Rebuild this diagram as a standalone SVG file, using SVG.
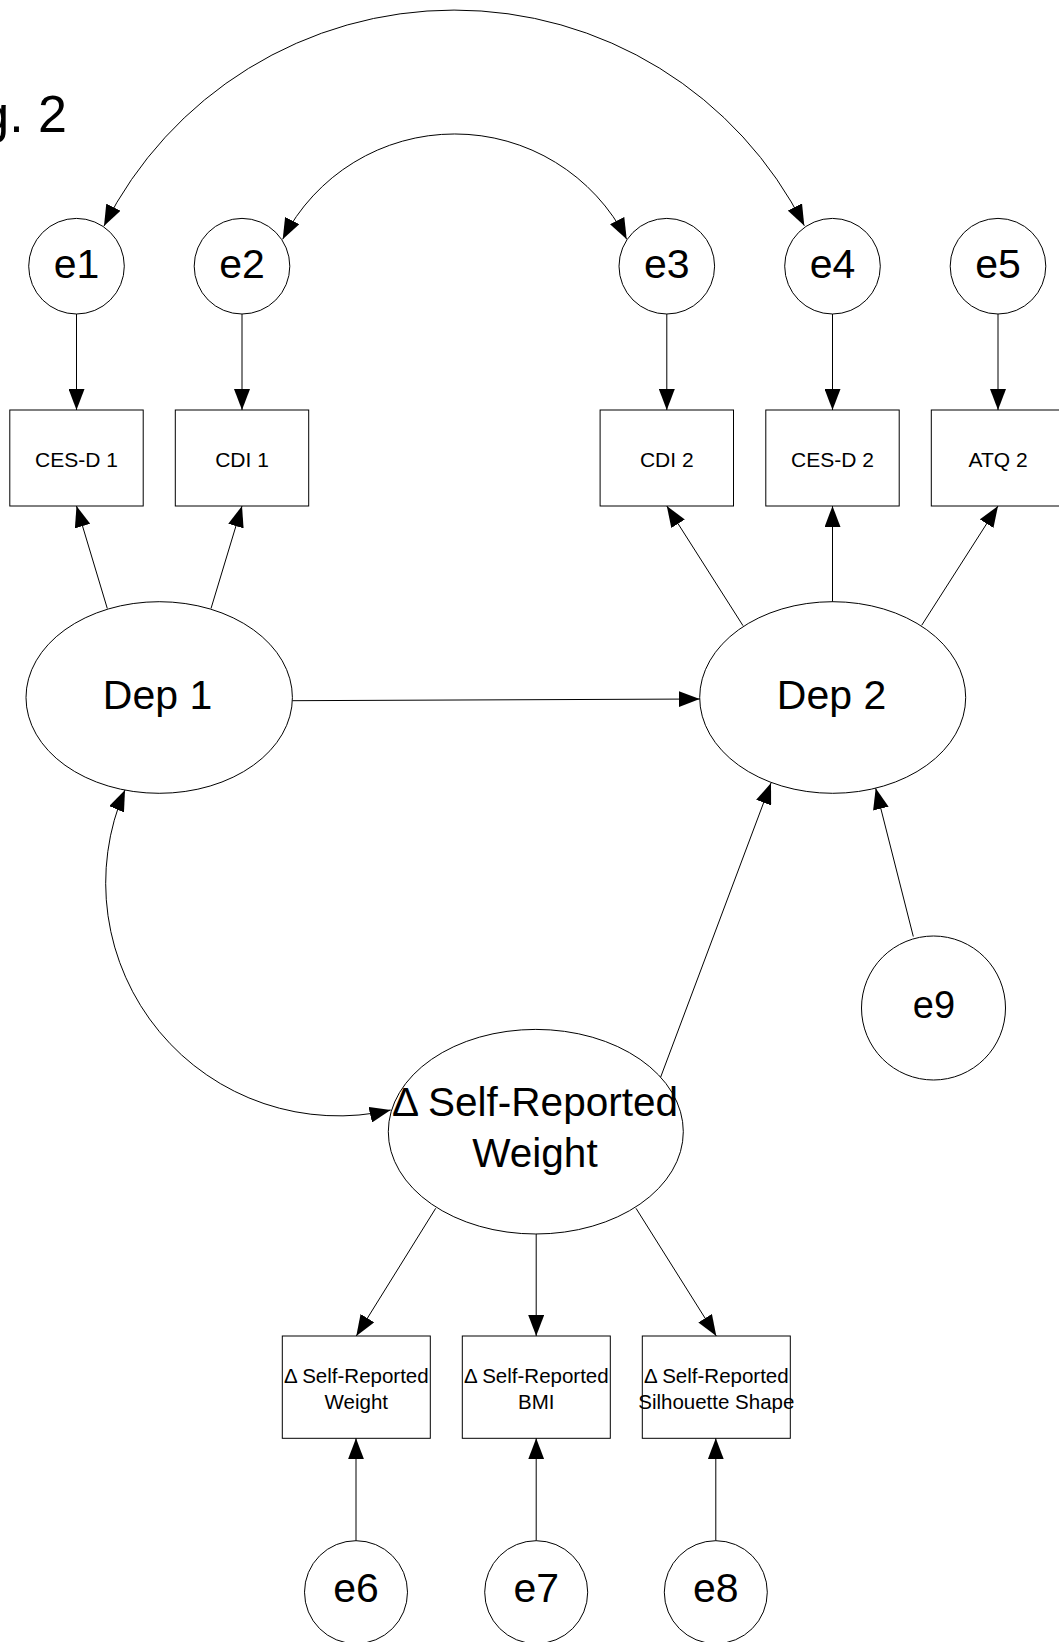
<svg xmlns="http://www.w3.org/2000/svg" xmlns:xlink="http://www.w3.org/1999/xlink" width="1059" height="1642" viewBox="0 0 1059 1642">
  <style>
    .shape { fill: #fff; stroke: #000; stroke-width: 1; }
    .edge { fill: none; stroke: #000; stroke-width: 1; marker-end: url(#arrow); }
    .both { marker-start: url(#arrowStart); }
    text { font-family: "Liberation Sans", Arial, Helvetica, sans-serif; fill: #000; text-anchor: middle; }
    .err { font-size: 41px; }
    .lat { font-size: 41px; }
    .obs { font-size: 21px; }
    .obs2 { font-size: 20.5px; }
  </style>
  <defs>
    <marker id="arrow" markerUnits="userSpaceOnUse" markerWidth="21" markerHeight="16" refX="21" refY="8" orient="auto">
      <path d="M0,0 L21,8 L0,16 Z" fill="#000"/>
    </marker>
    <marker id="arrowStart" markerUnits="userSpaceOnUse" markerWidth="21" markerHeight="16" refX="21" refY="8" orient="auto-start-reverse">
      <path d="M0,0 L21,8 L0,16 Z" fill="#000"/>
    </marker>
  </defs>

  <!-- figure caption, partly off the left edge -->
  <text x="67" y="131.7" style="font-size:52px;text-anchor:end">g. 2</text>

  <!-- error terms, top row -->
  <g id="e1"><circle class="shape" cx="76.5" cy="266.2" r="47.8"/><text class="err" x="76.5" y="277.5">e1</text></g>
  <g id="e2"><circle class="shape" cx="242" cy="266.2" r="47.8"/><text class="err" x="242" y="277.5">e2</text></g>
  <g id="e3"><circle class="shape" cx="666.8" cy="266.2" r="47.8"/><text class="err" x="666.8" y="277.5">e3</text></g>
  <g id="e4"><circle class="shape" cx="832.5" cy="266.2" r="47.8"/><text class="err" x="832.5" y="277.5">e4</text></g>
  <g id="e5"><circle class="shape" cx="998" cy="266.2" r="47.8"/><text class="err" x="998" y="277.5">e5</text></g>

  <!-- depression indicators -->
  <g id="cesd1"><rect class="shape" x="9.8" y="410" width="133.4" height="96"/><text class="obs" x="76.5" y="466.5">CES-D 1</text></g>
  <g id="cdi1"><rect class="shape" x="175.3" y="410" width="133.4" height="96"/><text class="obs" x="242" y="466.5">CDI 1</text></g>
  <g id="cdi2"><rect class="shape" x="600.1" y="410" width="133.4" height="96"/><text class="obs" x="666.8" y="466.5">CDI 2</text></g>
  <g id="cesd2"><rect class="shape" x="765.8" y="410" width="133.4" height="96"/><text class="obs" x="832.5" y="466.5">CES-D 2</text></g>
  <g id="atq2"><rect class="shape" x="931.3" y="410" width="133.4" height="96"/><text class="obs" x="998" y="466.5">ATQ 2</text></g>

  <!-- latent variables -->
  <g id="dep1"><ellipse class="shape" cx="159.2" cy="697.5" rx="133.2" ry="95.8"/><text class="lat" x="157.5" y="709.3">Dep 1</text></g>
  <g id="dep2"><ellipse class="shape" cx="832.7" cy="697.5" rx="133" ry="95.8"/><text class="lat" x="831.5" y="709.3">Dep 2</text></g>
  <g id="weight"><ellipse class="shape" cx="535.8" cy="1131.7" rx="147.5" ry="102.3"/>
    <text style="font-size:40.5px" x="535" y="1116">Δ Self-Reported</text>
    <text style="font-size:40.5px" x="535" y="1166.7">Weight</text>
  </g>

  <!-- disturbance for Dep 2 -->
  <g id="e9"><circle class="shape" cx="933.5" cy="1008" r="72"/><text style="font-size:38px" x="934" y="1018.3">e9</text></g>

  <!-- weight indicators -->
  <g id="srw"><rect class="shape" x="282.3" y="1336" width="148" height="102.3"/>
    <text class="obs2" x="356.3" y="1383.3">Δ Self-Reported</text><text class="obs2" x="356.3" y="1409.3">Weight</text></g>
  <g id="srbmi"><rect class="shape" x="462.3" y="1336" width="148" height="102.3"/>
    <text class="obs2" x="536.3" y="1383.3">Δ Self-Reported</text><text class="obs2" x="536.3" y="1409.3">BMI</text></g>
  <g id="srshape"><rect class="shape" x="642.3" y="1336" width="148" height="102.3"/>
    <text class="obs2" x="716.3" y="1383.3">Δ Self-Reported</text><text class="obs2" x="716.3" y="1409.3">Silhouette Shape</text></g>

  <!-- error terms, bottom row -->
  <g id="e6"><circle class="shape" cx="356" cy="1592.2" r="51.5"/><text class="err" x="356" y="1601.7">e6</text></g>
  <g id="e7"><circle class="shape" cx="536.2" cy="1592.2" r="51.5"/><text class="err" x="536.2" y="1601.7">e7</text></g>
  <g id="e8"><circle class="shape" cx="715.8" cy="1592.2" r="51.5"/><text class="err" x="715.8" y="1601.7">e8</text></g>

  <g id="connectors">
    <!-- correlated errors -->
    <path class="edge both" d="M104,226 A392,392 0 0 1 804.3,225.7"/>
    <path class="edge both" d="M282.7,239.3 A193.1,193.1 0 0 1 626.7,239.3"/>
    <!-- errors to indicators -->
    <path class="edge" d="M76.5,314 L76.5,410"/>
    <path class="edge" d="M242,314 L242,410"/>
    <path class="edge" d="M666.8,314 L666.8,410"/>
    <path class="edge" d="M832.5,314 L832.5,410"/>
    <path class="edge" d="M998,314 L998,410"/>
    <!-- loadings -->
    <path class="edge" d="M107.3,608.5 L76.5,506"/>
    <path class="edge" d="M211,608.5 L242,506"/>
    <path class="edge" d="M743,625.7 L666.8,506"/>
    <path class="edge" d="M832.5,601.7 L832.5,506"/>
    <path class="edge" d="M921.7,625.3 L998,506"/>
    <!-- structural paths -->
    <path class="edge" d="M292.4,700.7 L699.7,699"/>
    <path class="edge" d="M660.7,1077 L771,783"/>
    <path class="edge" d="M913.3,936.5 L875.7,788.3"/>
    <!-- covariance Dep 1 with weight change -->
    <path class="edge both" d="M125,790 A233,233 0 0 0 390.7,1110"/>
    <!-- weight loadings -->
    <path class="edge" d="M435.7,1208.3 L356.3,1336"/>
    <path class="edge" d="M536.2,1234 L536.2,1336"/>
    <path class="edge" d="M636,1208.3 L716.3,1336"/>
    <!-- weight indicator errors -->
    <path class="edge" d="M356,1540.7 L356,1438.3"/>
    <path class="edge" d="M536.2,1540.7 L536.2,1438.3"/>
    <path class="edge" d="M715.8,1540.7 L715.8,1438.3"/>
  </g>
</svg>
